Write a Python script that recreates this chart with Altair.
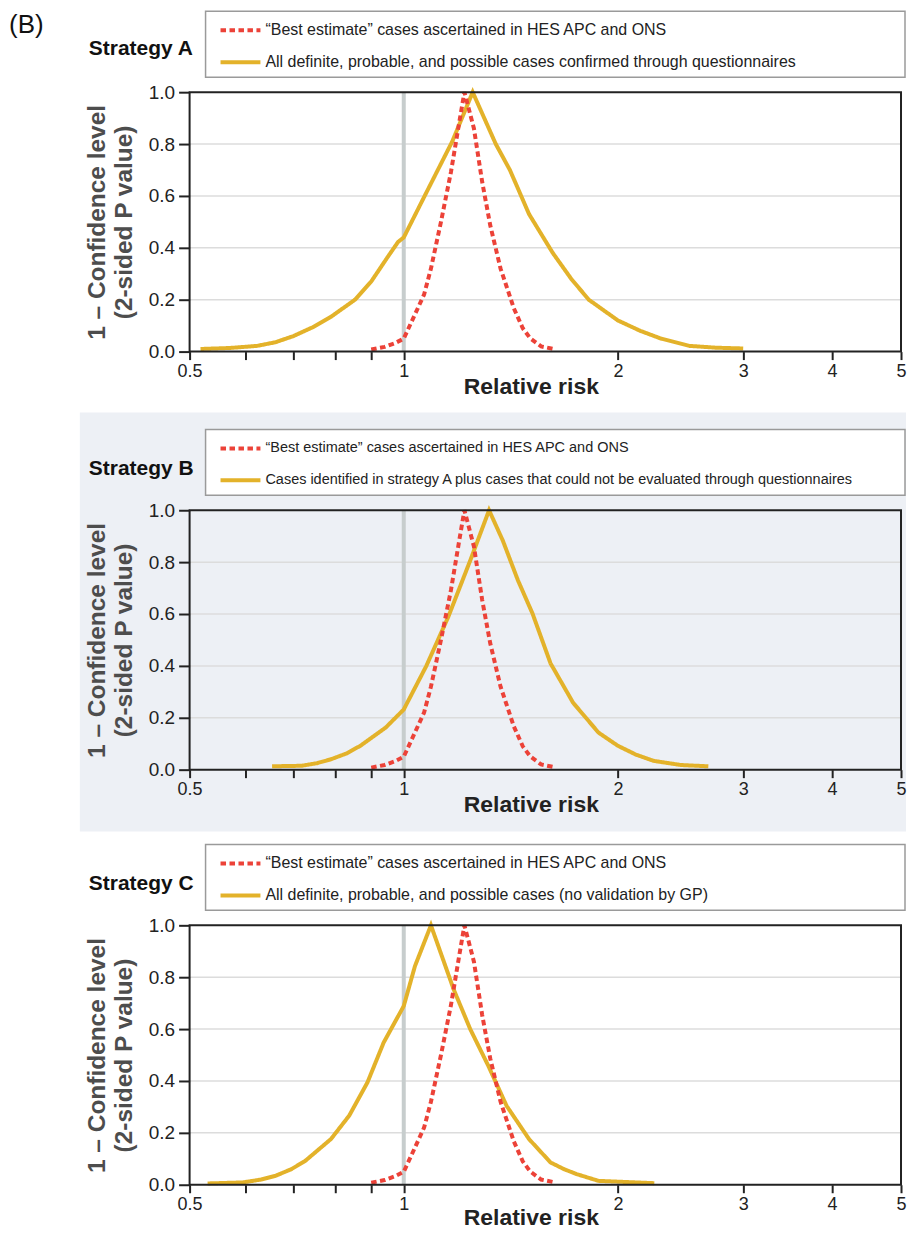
import altair as alt
import pandas as pd

FONT = "Liberation Sans"
RED = "#ec4238"
GOLD = "#e3b22a"

RED_LABEL = "\u201cBest estimate\u201d cases ascertained in HES APC and ONS"
STRATEGIES = ["Strategy A", "Strategy B", "Strategy C"]
GOLD_LABELS = [
    "All definite, probable, and possible cases confirmed through questionnaires",
    "Cases identified in strategy A plus cases that could not be evaluated through questionnaires",
    "All definite, probable, and possible cases (no validation by GP)",
]

red_rr = [0.90, 0.94, 0.971, 1.0, 1.036, 1.068, 1.092, 1.128, 1.165, 1.197, 1.217,
          1.255, 1.289, 1.323, 1.368, 1.428, 1.47, 1.506, 1.56, 1.625]
red_p = [0.008, 0.018, 0.032, 0.05, 0.141, 0.22, 0.32, 0.50, 0.692, 0.885, 1.0,
         0.86, 0.654, 0.487, 0.32, 0.167, 0.09, 0.051, 0.02, 0.01]

gold_a_rr = [0.518, 0.57, 0.622, 0.66, 0.70, 0.745, 0.79, 0.854, 0.90, 0.949, 0.982, 1.0,
             1.07, 1.17, 1.25, 1.347, 1.41, 1.50, 1.62, 1.72, 1.82, 2.0, 2.15, 2.3,
             2.52, 2.75, 3.0]
gold_a_p = [0.01, 0.014, 0.022, 0.036, 0.06, 0.094, 0.134, 0.2, 0.27, 0.364, 0.423, 0.44,
            0.6, 0.81, 1.0, 0.80, 0.70, 0.53, 0.38, 0.28, 0.2, 0.12, 0.08, 0.05,
            0.022, 0.015, 0.012]

gold_b_rr = [0.653, 0.718, 0.755, 0.79, 0.83, 0.869, 0.943, 1.0, 1.075, 1.155, 1.24, 1.318,
             1.378, 1.447, 1.517, 1.608, 1.73, 1.878, 2.0, 2.12, 2.245, 2.45, 2.68]
gold_b_p = [0.013, 0.015, 0.025, 0.04, 0.062, 0.092, 0.162, 0.232, 0.398, 0.589, 0.806, 1.0,
            0.883, 0.73, 0.602, 0.41, 0.258, 0.143, 0.092, 0.058, 0.034, 0.018, 0.013]

gold_c_rr = [0.53, 0.594, 0.63, 0.661, 0.695, 0.727, 0.79, 0.838, 0.889, 0.937, 1.0, 1.037,
             1.092, 1.175, 1.24, 1.315, 1.395, 1.50, 1.608, 1.68, 1.75, 1.878, 2.25]
gold_c_p = [0.005, 0.009, 0.02, 0.035, 0.06, 0.092, 0.176, 0.266, 0.394, 0.548, 0.689, 0.843,
            1.0, 0.754, 0.6, 0.458, 0.304, 0.176, 0.086, 0.06, 0.041, 0.015, 0.006]

X_TICKS = [0.5, 0.6, 0.7, 0.8, 0.9, 1, 2, 3, 4, 5]
X_LABELED = [0.5, 1, 2, 3, 4, 5]
Y_TICKS = [0.0, 0.2, 0.4, 0.6, 0.8, 1.0]
GRID_Y = [0.2, 0.4, 0.6, 0.8]
NULL_RR = [1]

W, H = 713, 260
RIGHT = 718  # right edge of decorations (keeps the page within 915 px)


def one(d):
    return pd.DataFrame(d)


def panel(i, gold_rr, gold_p, label_size, bg, extent, strat_y, xtitle_y):
    strat = STRATEGIES[i]
    gl = GOLD_LABELS[i]
    gold_df = pd.DataFrame({"rr": gold_rr, "p": gold_p, "series": gl})
    red_df = pd.DataFrame({"rr": red_rr, "p": red_p, "series": RED_LABEL})

    xs = alt.Scale(type="log", domain=[0.5, 5], nice=False)
    ys = alt.Scale(domain=[0, 1], nice=False, zero=False)
    label_expr = ("indexof([" + ",".join(str(v) for v in X_LABELED) +
                  "], datum.value) >= 0 ? toString(datum.value) : ''")
    xaxis = alt.Axis(values=X_TICKS, labelExpr=label_expr, grid=False, domain=False,
                     tickSize=8, tickWidth=2, tickColor="#222", labelFontSize=18,
                     labelColor="#222", labelPadding=3, labelFlush=False,
                     labelOverlap=False, title="Relative risk", titleFontSize=23,
                     titleFontWeight="bold", titleColor="#222", titleX=342,
                     titleY=xtitle_y, titleAlign="center", titleBaseline="middle",
                     zindex=1)
    yaxis = alt.Axis(values=Y_TICKS, format=".1f", grid=False, domain=False,
                     tickSize=11, tickWidth=2, tickColor="#222", labelFontSize=19,
                     labelColor="#222", labelPadding=4,
                     title=["1 \u2013 Confidence level", "(2-sided P value)"],
                     titleFontSize=24.5, titleFontWeight="bold", titleColor="#4d4d4d",
                     titleLineHeight=27, titleX=-92, titleY=130, titleAngle=270,
                     titleAlign="center", titleBaseline="middle", zindex=1)
    cs = alt.Scale(domain=[RED_LABEL, gl], range=[RED, GOLD])
    ds = alt.Scale(domain=[RED_LABEL, gl], range=[[5.5, 3.5], [1, 0]])

    X = alt.X("rr:Q", scale=xs, axis=xaxis)
    Y = alt.Y("p:Q", scale=ys, axis=yaxis)
    C = alt.Color("series:N", scale=cs, legend=None)
    D = alt.StrokeDash("series:N", scale=ds, legend=None)

    layers = []
    x0, x1, y0, y1 = extent
    if bg:
        layers.append(alt.Chart(one({"k": [0]})).mark_rect(fill="#edf0f5")
                      .encode(x=alt.value(x0), x2=alt.value(x1),
                              y=alt.value(y0), y2=alt.value(y1)))
    else:
        layers.append(alt.Chart(one({"k": [0]})).mark_rect(fill="#ffffff", opacity=0)
                      .encode(x=alt.value(x0), x2=alt.value(x1),
                              y=alt.value(y0), y2=alt.value(y1)))
    layers.append(alt.Chart(one({"g": GRID_Y})).mark_rule(color="#dcdcdc", strokeWidth=1.5)
                  .encode(y=alt.Y("g:Q", scale=ys, axis=yaxis)))
    layers.append(alt.Chart(one({"rr": NULL_RR})).mark_rule(color="#c7cdcd", strokeWidth=4)
                  .encode(x=alt.X("rr:Q", scale=xs, axis=xaxis)))
    layers.append(alt.Chart(gold_df).mark_line(strokeWidth=4, strokeCap="butt")
                  .encode(x=X, y=Y, color=C, strokeDash=D))
    layers.append(alt.Chart(red_df).mark_line(strokeWidth=4, strokeCap="butt")
                  .encode(x=X, y=Y, color=C, strokeDash=D))
    # legend box
    layers.append(alt.Chart(one({"k": [0]})).mark_rect(fill="#ffffff", stroke="#9a9a9a",
                                                       strokeWidth=1.5)
                  .encode(x=alt.value(16), x2=alt.value(RIGHT - 1),
                          y=alt.value(-81), y2=alt.value(-15)))
    # legend entries (sample line + label), coloured through the same scales
    for lab, ly in ((RED_LABEL, -62), (gl, -30)):
        ldf = one({"series": [lab]})
        layers.append(alt.Chart(ldf).mark_rule(strokeWidth=4, strokeCap="butt")
                      .encode(x=alt.value(31), x2=alt.value(71), y=alt.value(ly),
                              color=C, strokeDash=D))
        layers.append(alt.Chart(ldf).mark_text(align="left", baseline="middle",
                                               fontSize=label_size, color="#222",
                                               font=FONT)
                      .encode(x=alt.value(76), y=alt.value(ly), text="series:N"))
    # plot frame
    layers.append(alt.Chart(one({"k": [0]})).mark_rect(fillOpacity=0, stroke="#222",
                                                       strokeWidth=2)
                  .encode(x=alt.value(0), x2=alt.value(W),
                          y=alt.value(0), y2=alt.value(H)))
    layers.append(alt.Chart(one({"t": [strat]}))
                  .mark_text(align="left", baseline="middle", fontSize=21,
                             fontWeight="bold", color="#111", font=FONT)
                  .encode(x=alt.value(-101), y=alt.value(strat_y), text="t:N"))
    if i == 0:
        layers.append(alt.Chart(one({"t": ["(B)"]}))
                      .mark_text(align="left", baseline="top", fontSize=26,
                                 color="#111", font=FONT)
                      .encode(x=alt.value(-181), y=alt.value(-80), text="t:N"))
    return (alt.layer(*layers)
            .resolve_scale(color="shared", strokeDash="shared")
            .properties(width=W, height=H))


pA = panel(0, gold_a_rr, gold_a_p, 16, False, (-181, RIGHT, -82, 319), -43, 35)
pB = panel(1, gold_b_rr, gold_b_p, 14.5, True, (-110, RIGHT, -98, 322), -41, 35)
pC = panel(2, gold_c_rr, gold_c_p, 16, False, (-181, RIGHT, -92, 250), -41, 33)

chart = (alt.vconcat(pA, pB, pC, spacing=0)
         .resolve_scale(color="independent", strokeDash="independent")
         .properties(padding=0)
         .configure(font=FONT, padding=0)
         .configure_view(stroke="transparent"))

chart.save("out.html", embed_options={"renderer": "svg", "actions": False})
